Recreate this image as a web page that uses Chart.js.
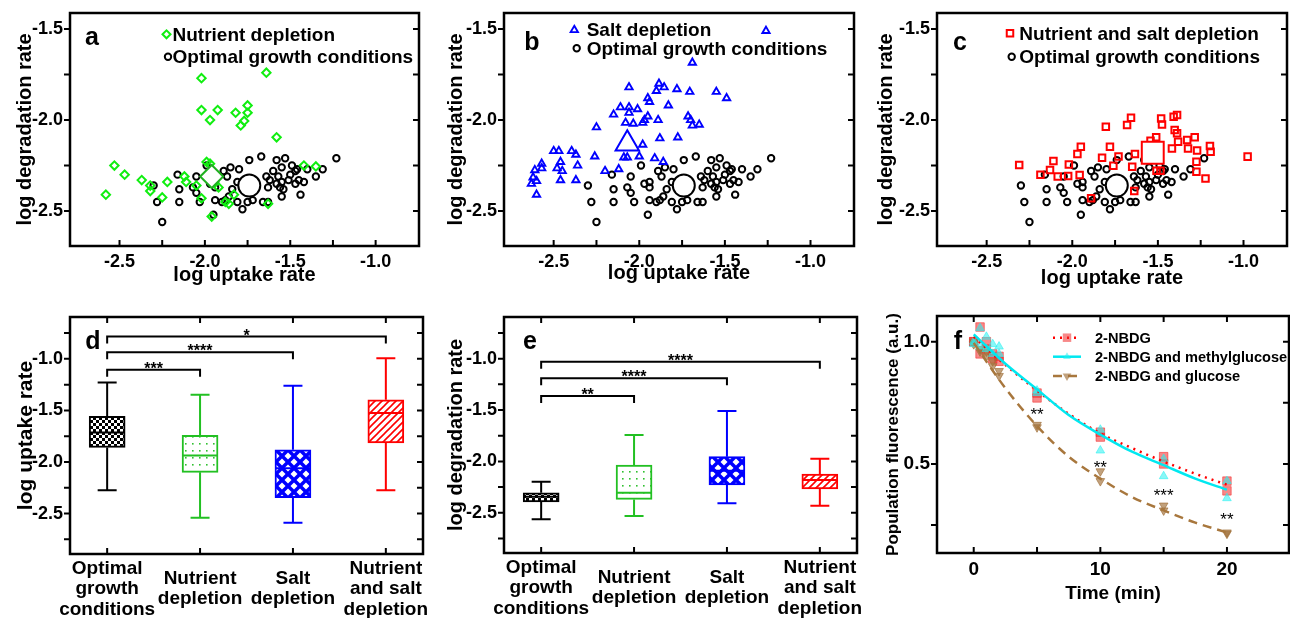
<!DOCTYPE html>
<html><head><meta charset="utf-8">
<script src="https://cdn.jsdelivr.net/npm/chart.js@4/dist/chart.umd.min.js"></script>
<style>
html,body{margin:0;padding:0;background:#fff;width:1290px;height:618px;overflow:hidden}
canvas{position:absolute}
</style></head><body>
<canvas id="ca" width="430" height="300" style="left:0;top:0"></canvas>
<canvas id="cb" width="430" height="300" style="left:430px;top:0"></canvas>
<canvas id="cc" width="430" height="300" style="left:860px;top:0"></canvas>
<canvas id="cd" width="430" height="318" style="left:0;top:300px"></canvas>
<canvas id="ce" width="455" height="318" style="left:430px;top:300px"></canvas>
<canvas id="cf" width="430" height="318" style="left:860px;top:300px"></canvas>
<script>
// ---------------- DATA ----------------
// Optimal growth conditions (black circles, same in a, b, c)
const optX = [-2.30,-2.28,-2.25,-2.16,-2.15,-2.15,-2.07,-2.05,-2.05,-2.03,-1.99,-1.97,-1.94,-1.94,-1.94,-1.95,-1.89,-1.87,-1.85,-1.84,-1.86,-1.88,-1.90,-1.81,-1.80,-1.81,-1.78,-1.74,-1.67,-1.75,-1.72,-1.66,-1.63,-1.63,-1.64,-1.58,-1.53,-1.55,-1.60,-1.57,-1.62,-1.55,-1.56,-1.54,-1.55,-1.49,-1.47,-1.50,-1.45,-1.42,-1.40,-1.44,-1.35,-1.31,-1.23,-1.51,-1.47,-1.58,-1.46];
const optY = [-2.36,-2.45,-2.56,-2.30,-2.38,-2.45,-2.37,-2.31,-2.40,-2.45,-2.25,-2.35,-2.34,-2.37,-2.44,-2.52,-2.28,-2.31,-2.26,-2.38,-2.42,-2.44,-2.45,-2.45,-2.27,-2.34,-2.49,-2.22,-2.20,-2.45,-2.44,-2.45,-2.45,-2.37,-2.31,-2.22,-2.21,-2.26,-2.28,-2.31,-2.33,-2.34,-2.37,-2.38,-2.42,-2.25,-2.28,-2.30,-2.33,-2.34,-2.27,-2.41,-2.31,-2.27,-2.21,-2.33,-2.35,-2.35,-2.27];
// Nutrient depletion (green diamonds)
const nutX = [-2.02,-1.64,-2.02,-1.925,-1.97,-1.82,-1.75,-1.75,-1.77,-1.79,-1.58,-2.53,-2.47,-2.58,-2.37,-2.32,-2.32,-2.22,-2.25,-2.12,-2.11,-2.05,-1.99,-1.97,-1.92,-2.02,-1.88,-1.86,-1.83,-1.96,-1.63,-1.42,-1.35];
const nutY = [-1.77,-1.74,-1.945,-1.945,-2.00,-1.96,-1.92,-1.96,-2.005,-2.03,-2.095,-2.25,-2.30,-2.41,-2.33,-2.36,-2.39,-2.34,-2.425,-2.31,-2.34,-2.36,-2.23,-2.24,-2.37,-2.43,-2.45,-2.46,-2.41,-2.53,-2.46,-2.25,-2.255];
// Salt depletion (blue triangles)
const saltX = [-1.69,-2.06,-1.885,-1.855,-1.90,-1.78,-1.705,-1.55,-1.49,-1.95,-1.94,-1.83,-2.11,-2.06,-2.01,-2.15,-2.06,-1.95,-1.89,-1.97,-1.98,-2.08,-2.035,-1.715,-1.70,-1.69,-1.65,-2.25,-1.88,-1.775,-1.98,-2.09,-2.07,-2.00,-1.91,-1.86,-2.12,-2.20,-2.26,-2.36,-2.37,-2.50,-2.47,-2.395,-2.37,-2.46,-2.48,-2.45,-2.46,-2.57,-2.57,-2.61,-2.62,-2.60,-2.63,-2.60,-1.26];
const saltY = [-1.685,-1.82,-1.80,-1.82,-1.84,-1.83,-1.845,-1.845,-1.88,-1.88,-1.90,-1.92,-1.93,-1.93,-1.94,-1.97,-1.96,-1.98,-2.00,-2.00,-2.015,-2.015,-2.02,-1.98,-2.00,-2.03,-2.025,-2.04,-2.10,-2.095,-2.135,-2.205,-2.205,-2.20,-2.21,-2.23,-2.27,-2.28,-2.20,-2.25,-2.33,-2.17,-2.17,-2.17,-2.19,-2.23,-2.265,-2.28,-2.33,-2.24,-2.265,-2.275,-2.315,-2.335,-2.35,-2.41,-1.51];
// Nutrient and salt depletion (red squares)
const nsX = [-2.31,-2.186,-2.13,-2.11,-2.085,-2.024,-2.02,-1.957,-1.97,-1.95,-1.89,-1.826,-1.804,-1.78,-1.76,-1.73,-1.68,-1.657,-1.65,-1.634,-1.638,-1.543,-1.51,-1.508,-1.485,-1.481,-1.476,-1.418,-1.408,-1.388,-1.402,-1.388,-1.382,-1.329,-1.285,-1.324,-1.271,-1.196,-1.192,-1.275,-1.275,-1.222,-0.976];
const nsY = [-2.247,-2.30,-2.275,-2.225,-2.31,-2.308,-2.244,-2.302,-2.187,-2.147,-2.43,-2.207,-2.037,-2.147,-2.251,-2.20,-2.027,-1.987,-2.256,-2.187,-2.39,-2.114,-2.095,-2.278,-2.278,-1.991,-2.024,-2.156,-1.982,-1.973,-2.055,-2.073,-2.119,-2.11,-2.095,-2.156,-2.168,-2.143,-2.174,-2.229,-2.284,-2.321,-2.201];
// Means (large markers)
const meanOpt = [-1.74, -2.36];
const meanNut = [-1.96, -2.31];
const meanSalt = [-2.07, -2.13];
const meanNS = [-1.53, -2.18];
const scatterXTicks = [-2.5, -2.0, -1.5, -1.0];
const scatterYTicks = [-2.5, -2.0, -1.5];

// Box plots
const boxCats = [['Optimal','growth','conditions'], ['Nutrient','depletion'], ['Salt','depletion'], ['Nutrient','and salt','depletion']];
const upLow  = [-2.275, -2.54, -2.59, -2.275];
const upQ1   = [-1.859, -2.10, -2.345, -1.816];
const upMed  = [-1.713, -1.936, -2.06, -1.526];
const upQ3   = [-1.558, -1.742, -1.881, -1.397];
const upHigh = [-1.229, -1.348, -1.261, -0.993];
const degLow  = [-2.564, -2.532, -2.408, -2.432];
const degQ1   = [-2.395, -2.37, -2.23, -2.269];
const degMed  = [-2.344, -2.305, -2.09, -2.181];
const degQ3   = [-2.305, -2.035, -1.954, -2.123];
const degHigh = [-2.198, -1.743, -1.509, -1.974];
const boxYTicks = [-2.5, -2.0, -1.5, -1.0];
const sigUpFrom = [0, 0, 0], sigUpTo = [1, 2, 3], sigUpY = [-1.106, -0.935, -0.784], sigUpText = ['***', '****', '*'];
const sigDegFrom = [0, 0, 0], sigDegTo = [1, 2, 3], sigDegY = [-1.363, -1.191, -1.029], sigDegText = ['**', '****', '****'];

// Panel f
const timeF = [0, 0.5, 1, 1.5, 2, 5, 10, 15, 20];
const nbdgA = [1.00, 1.06, 1.00, 0.93, 0.94, 0.79, 0.63, 0.53, 0.43];
const nbdgB = [1.00, 0.95, 0.97, 0.95, 0.92, 0.77, 0.61, 0.50, 0.39];
const methA = [1.00, 1.055, 1.02, 0.99, 0.98, 0.80, 0.64, 0.52, 0.43];
const methB = [0.99, 0.98, 0.97, 0.95, 0.95, 0.79, 0.555, 0.45, 0.36];
const glucA = [1.00, 0.97, 0.96, 0.92, 0.88, 0.66, 0.47, 0.33, 0.22];
const glucB = [0.99, 0.96, 0.94, 0.90, 0.86, 0.65, 0.43, 0.31, 0.215];
const fitT = [0, 2.5, 5, 7.5, 10, 12.5, 15, 17.5, 20];
const fitNbdg = [1.02, 0.905, 0.80, 0.705, 0.625, 0.565, 0.51, 0.46, 0.415];
const fitMeth = [1.03, 0.91, 0.805, 0.70, 0.62, 0.55, 0.495, 0.44, 0.395];
const fitGluc = [0.995, 0.81, 0.655, 0.53, 0.44, 0.365, 0.31, 0.26, 0.22];
const starT = [5, 10, 15, 20], starV = [0.72, 0.505, 0.39, 0.29], starText = ['**', '**', '***', '**'];
const fXTicks = [0, 10, 20];
const fYTicks = [0.5, 1.0];

// ---------------- HELPERS ----------------
const FF = "'Liberation Sans', Arial, Helvetica, sans-serif";
Chart.defaults.font.family = FF;
Chart.defaults.color = '#000';
Chart.defaults.animation = false;

function pts(xs, ys) { return xs.map((x, i) => ({x: x, y: ys[i]})); }

function marker(ctx, style, x, y, r, stroke, lw, fill) {
  ctx.save();
  ctx.beginPath();
  if (style === 'circle') ctx.arc(x, y, r, 0, Math.PI * 2);
  else if (style === 'rect') { const s = r * Math.SQRT1_2; ctx.rect(x - s, y - s, 2 * s, 2 * s); }
  else if (style === 'rectRot') { ctx.moveTo(x - r, y); ctx.lineTo(x, y + r); ctx.lineTo(x + r, y); ctx.lineTo(x, y - r); ctx.closePath(); }
  else if (style === 'triangle' || style === 'triDown') {
    const d = style === 'triangle' ? 1 : -1;
    ctx.moveTo(x, y - d * r);
    ctx.lineTo(x + r * 0.866, y + d * r * 0.5);
    ctx.lineTo(x - r * 0.866, y + d * r * 0.5);
    ctx.closePath();
  }
  if (fill) { ctx.fillStyle = fill; ctx.fill(); }
  if (stroke) { ctx.strokeStyle = stroke; ctx.lineWidth = lw; ctx.stroke(); }
  ctx.restore();
}

function makeDeco(cfg) {
  return {
    id: 'deco',
    beforeDatasetsDraw(chart) {
      if (!cfg.box) return;
      const {ctx, scales: {x, y}} = chart, b = cfg.box;
      ctx.save(); ctx.lineWidth = 2;
      for (let i = 0; i < b.lo.length; i++) {
        const px = x.getPixelForValue(i);
        const yh = y.getPixelForValue(b.hi[i]), yl = y.getPixelForValue(b.lo[i]);
        ctx.strokeStyle = b.colors[i];
        ctx.beginPath();
        ctx.moveTo(px, yh); ctx.lineTo(px, y.getPixelForValue(b.q3[i]));
        ctx.moveTo(px, y.getPixelForValue(b.q1[i])); ctx.lineTo(px, yl);
        ctx.moveTo(px - 9.5, yh); ctx.lineTo(px + 9.5, yh);
        ctx.moveTo(px - 9.5, yl); ctx.lineTo(px + 9.5, yl);
        ctx.stroke();
      }
      ctx.restore();
    },
    afterDatasetsDraw(chart) {
      if (!cfg.box) return;
      const {ctx, scales: {x, y}} = chart, b = cfg.box;
      ctx.save(); ctx.lineWidth = 2;
      for (let i = 0; i < b.med.length; i++) {
        const px = x.getPixelForValue(i), pm = y.getPixelForValue(b.med[i]);
        ctx.strokeStyle = b.colors[i];
        ctx.beginPath(); ctx.moveTo(px - 17, pm); ctx.lineTo(px + 17, pm); ctx.stroke();
      }
      ctx.restore();
    },
    afterDraw(chart) {
      const {ctx, chartArea: a, scales: {x, y}} = chart;
      ctx.save();
      ctx.strokeStyle = '#000'; ctx.lineWidth = 2.5;
      ctx.strokeRect(a.left, a.top, a.right - a.left, a.bottom - a.top);
      ctx.lineWidth = 2;
      const L = 6;
      ctx.beginPath();
      const yt = cfg.yMajor.concat(cfg.yMinor || []);
      for (const v of yt) {
        const p = y.getPixelForValue(v);
        if (p < a.top || p > a.bottom) continue;
        ctx.moveTo(a.left - L, p); ctx.lineTo(a.left, p);
        ctx.moveTo(a.right - L, p); ctx.lineTo(a.right, p);
      }
      const xt = cfg.xMajor.concat(cfg.xMinor || []);
      for (const v of xt) {
        const p = x.getPixelForValue(v);
        if (p < a.left || p > a.right) continue;
        ctx.moveTo(p, a.bottom); ctx.lineTo(p, a.bottom - L);
        if (cfg.topTicks) { ctx.moveTo(p, a.top); ctx.lineTo(p, a.top + L); }
      }
      ctx.stroke();
      if (cfg.sig) {
        const s = cfg.sig;
        for (let i = 0; i < s.from.length; i++) {
          const xa = x.getPixelForValue(s.from[i]), xb = x.getPixelForValue(s.to[i]), yy = y.getPixelForValue(s.y[i]);
          ctx.beginPath();
          ctx.moveTo(xa, yy + 7); ctx.lineTo(xa, yy); ctx.lineTo(xb, yy); ctx.lineTo(xb, yy + 7);
          ctx.stroke();
          ctx.font = 'bold 16px ' + FF; ctx.fillStyle = '#000';
          ctx.textAlign = 'center'; ctx.textBaseline = 'alphabetic';
          ctx.fillText(s.text[i], (xa + xb) / 2, yy + 4);
        }
      }
      if (cfg.stars) {
        const s = cfg.stars;
        ctx.font = '17px ' + FF; ctx.fillStyle = '#000';
        ctx.textAlign = 'center'; ctx.textBaseline = 'alphabetic';
        for (let i = 0; i < s.t.length; i++) {
          ctx.fillText(s.text[i], x.getPixelForValue(s.t[i]), y.getPixelForValue(s.v[i]) + 10);
        }
      }
      if (cfg.legend) {
        for (const it of cfg.legend) {
          if (it.line) {
            ctx.save();
            ctx.strokeStyle = it.line.color; ctx.lineWidth = it.line.width; ctx.setLineDash(it.line.dash || []);
            ctx.beginPath(); ctx.moveTo(it.lx0, it.my); ctx.lineTo(it.lx1, it.my); ctx.stroke();
            ctx.restore();
          }
          marker(ctx, it.style, it.mx, it.my, it.r, it.stroke, it.lw, it.fill);
          ctx.font = (it.font || 'bold 19px ') + FF; ctx.fillStyle = '#000';
          ctx.textAlign = 'left'; ctx.textBaseline = 'middle';
          ctx.fillText(it.text, it.tx, it.my + 1);
        }
      }
      if (cfg.letter) {
        ctx.font = 'bold 25px ' + FF; ctx.fillStyle = '#000';
        ctx.textAlign = 'center'; ctx.textBaseline = 'middle';
        ctx.fillText(cfg.letter.t, cfg.letter.x, cfg.letter.y);
      }
      ctx.restore();
    }
  };
}

function tickFix(vals) { return s => { s.ticks = vals.map(v => ({value: v})); }; }
function noPad(s) { s.paddingLeft = 0; s.paddingRight = 0; s.paddingTop = 0; s.paddingBottom = 0; }

// ---------------- SCATTER PANELS ----------------
function scatterPanel(id, geo, sets, legend, letter) {
  return new Chart(document.getElementById(id), {
    type: 'scatter',
    data: {datasets: sets},
    options: {
      responsive: false, animation: false,
      layout: {autoPadding: false, padding: {left: 0, right: geo.padR, top: geo.padTop, bottom: 0}},
      plugins: {legend: {display: false}, tooltip: {enabled: false}},
      scales: {
        x: {
          type: 'linear', min: -2.79, max: -0.746,
          afterBuildTicks: tickFix(scatterXTicks),
          afterFit: s => { s.height = geo.H; noPad(s); },
          grid: {display: false, drawTicks: false}, border: {display: false},
          ticks: {padding: 5, autoSkip: false, maxRotation: 0, font: {size: 18, weight: 'bold'}, callback: v => v.toFixed(1)},
          title: {display: true, text: 'log uptake rate', font: {size: 20, weight: 'bold'}, padding: {top: 0, bottom: geo.xtp}}
        },
        y: {
          type: 'linear', min: -2.692, max: -1.412,
          afterBuildTicks: tickFix(scatterYTicks),
          afterFit: s => { s.width = geo.W; noPad(s); },
          grid: {display: false, drawTicks: false}, border: {display: false},
          ticks: {padding: 7, autoSkip: false, font: {size: 18, weight: 'bold'}, callback: v => v.toFixed(1)},
          title: {display: true, text: 'log degradation rate', font: {size: 20, weight: 'bold'}, padding: {top: geo.ytp, bottom: 0}}
        }
      }
    },
    plugins: [makeDeco({xMajor: scatterXTicks, xMinor: [-2.25, -1.75, -1.25], yMajor: scatterYTicks, yMinor: [-2.25, -1.75], legend: legend, letter: letter})]
  });
}

const optSet = {data: pts(optX, optY), pointStyle: 'circle', pointRadius: 3.2, borderColor: '#000', backgroundColor: 'rgba(0,0,0,0)', borderWidth: 2};
const optMean = {data: [{x: meanOpt[0], y: meanOpt[1]}], pointStyle: 'circle', pointRadius: 11, borderColor: '#000', backgroundColor: '#fff', borderWidth: 2};
const GREEN = '#10ee10', BLUE = '#0000ff', RED = '#ff0000';

scatterPanel('ca', {W: 70, padR: 11, padTop: 13, H: 54, xtp: 13, ytp: 13}, [
  {data: [{x: meanNut[0], y: meanNut[1]}], pointStyle: 'rectRot', pointRadius: 11.5, borderColor: '#20b020', backgroundColor: '#fff', borderWidth: 2},
  optMean,
  {data: pts(nutX, nutY), pointStyle: 'rectRot', pointRadius: 4.2, borderColor: GREEN, backgroundColor: 'rgba(0,0,0,0)', borderWidth: 2},
  optSet
], [
  {style: 'rectRot', mx: 166.5, my: 34.3, r: 4, stroke: GREEN, lw: 2, text: 'Nutrient depletion', tx: 172.5},
  {style: 'circle', mx: 168, my: 56.7, r: 3.2, stroke: '#000', lw: 2, text: 'Optimal growth conditions', tx: 172.5}
], {t: 'a', x: 92, y: 38});

scatterPanel('cb', {W: 74, padR: 6, padTop: 13, H: 54, xtp: 14.7, ytp: 14.7}, [
  {data: [{x: meanSalt[0], y: meanSalt[1]}], pointStyle: 'triangle', pointRadius: 13.5, borderColor: BLUE, backgroundColor: '#fff', borderWidth: 2},
  optMean,
  {data: pts(saltX, saltY), pointStyle: 'triangle', pointRadius: 4.2, borderColor: BLUE, backgroundColor: 'rgba(0,0,0,0)', borderWidth: 1.9},
  optSet
], [
  {style: 'triangle', mx: 144.3, my: 30, r: 4.2, stroke: BLUE, lw: 1.9, text: 'Salt depletion', tx: 156.7},
  {style: 'circle', mx: 146.7, my: 48.3, r: 3.2, stroke: '#000', lw: 2, text: 'Optimal growth conditions', tx: 156.7}
], {t: 'b', x: 102, y: 43});

scatterPanel('cc', {W: 77, padR: 3, padTop: 13, H: 54, xtp: 9.7, ytp: 14.7}, [
  {data: [{x: meanNS[0], y: meanNS[1]}], pointStyle: 'rect', pointRadius: 15.5, borderColor: RED, backgroundColor: '#fff', borderWidth: 2},
  optMean,
  {data: pts(nsX, nsY), pointStyle: 'rect', pointRadius: 4.6, borderColor: RED, backgroundColor: 'rgba(0,0,0,0)', borderWidth: 2},
  optSet
], [
  {style: 'rect', mx: 150, my: 33.3, r: 4.6, stroke: RED, lw: 2, text: 'Nutrient and salt depletion', tx: 159.3},
  {style: 'circle', mx: 151.7, my: 56.7, r: 3.2, stroke: '#000', lw: 2, text: 'Optimal growth conditions', tx: 159.3}
], {t: 'c', x: 100, y: 43});

// ---------------- PATTERNS ----------------
function pattern(w, h, draw) {
  const c = document.createElement('canvas'); c.width = w; c.height = h;
  const g = c.getContext('2d'); draw(g);
  return g.createPattern(c, 'repeat');
}
const patChecker = pattern(6, 6, g => { g.fillStyle = '#fff'; g.fillRect(0, 0, 6, 6); g.fillStyle = '#000'; g.fillRect(0, 0, 3, 3); g.fillRect(3, 3, 3, 3); });
const patDots = pattern(7, 7, g => { g.fillStyle = '#fff'; g.fillRect(0, 0, 7, 7); g.fillStyle = '#30c030'; g.fillRect(3, 3, 1.6, 1.6); });
const patDiam = pattern(12, 12, g => {
  g.fillStyle = '#0000ff'; g.fillRect(0, 0, 12, 12); g.fillStyle = '#fff';
  for (const [cx, cy] of [[6, 6], [0, 0], [12, 0], [0, 12], [12, 12]]) {
    g.beginPath(); g.moveTo(cx - 3.5, cy); g.lineTo(cx, cy - 3.5); g.lineTo(cx + 3.5, cy); g.lineTo(cx, cy + 3.5); g.closePath(); g.fill();
  }
});
const patHatch = pattern(7, 7, g => {
  g.fillStyle = '#fff'; g.fillRect(0, 0, 7, 7); g.strokeStyle = '#ff0000'; g.lineWidth = 1.6;
  g.beginPath(); g.moveTo(-1, 8); g.lineTo(8, -1); g.moveTo(-1, 1); g.lineTo(1, -1); g.moveTo(6, 8); g.lineTo(8, 6); g.stroke();
});
const boxColors = ['#000000', '#22c022', '#0000ff', '#ff0000'];
const boxFills = [patChecker, patDots, patDiam, patHatch];

// ---------------- BOX PANELS ----------------
function boxPanel(id, geo, lo, q1, med, q3, hi, sig, ytitle, letter) {
  return new Chart(document.getElementById(id), {
    type: 'bar',
    data: {datasets: [{
      data: q1.map((v, i) => ({x: i, y: [v, q3[i]]})),
      backgroundColor: boxFills, borderColor: boxColors, borderWidth: 2, borderSkipped: false, barThickness: 36
    }]},
    options: {
      responsive: false, animation: false,
      layout: {autoPadding: false, padding: {left: 0, right: geo.padR, top: geo.padTop, bottom: 0}},
      plugins: {legend: {display: false}, tooltip: {enabled: false}},
      scales: {
        x: {
          type: 'linear', min: -0.4, max: 3.4, offset: false,
          afterBuildTicks: tickFix([0, 1, 2, 3]),
          afterFit: s => { s.height = geo.H; noPad(s); },
          grid: {display: false, drawTicks: false}, border: {display: false},
          ticks: {padding: 15, autoSkip: false, maxRotation: 0, crossAlign: 'center', font: {size: 19, weight: 'bold', lineHeight: 1.06}, callback: (v, i) => boxCats[i]}
        },
        y: {
          type: 'linear', min: -2.892, max: -0.594, beginAtZero: false,
          afterBuildTicks: tickFix(boxYTicks),
          afterFit: s => { s.width = geo.W; noPad(s); },
          grid: {display: false, drawTicks: false}, border: {display: false},
          ticks: {padding: 7, autoSkip: false, font: {size: 18, weight: 'bold'}, callback: v => v.toFixed(1)},
          title: {display: true, text: ytitle, font: {size: geo.ytf, weight: 'bold'}, padding: {top: geo.ytp, bottom: 0}}
        }
      }
    },
    plugins: [makeDeco({
      xMajor: [0, 1, 2, 3], yMajor: boxYTicks, yMinor: [-2.75, -2.25, -1.75, -1.25, -0.75], topTicks: true,
      box: {lo: lo, q1: q1, med: med, q3: q3, hi: hi, colors: boxColors},
      sig: sig, letter: letter
    })]
  });
}
boxPanel('cd', {W: 70, padR: 7, padTop: 17, H: 64, ytp: 14, ytf: 21}, upLow, upQ1, upMed, upQ3, upHigh,
  {from: sigUpFrom, to: sigUpTo, y: sigUpY, text: sigUpText}, 'log uptake rate', {t: 'd', x: 93, y: 42});
boxPanel('ce', {W: 74, padR: 28, padTop: 17, H: 65, ytp: 14, ytf: 20}, degLow, degQ1, degMed, degQ3, degHigh,
  {from: sigDegFrom, to: sigDegTo, y: sigDegY, text: sigDegText}, 'log degradation rate', {t: 'e', x: 100, y: 42});

// ---------------- PANEL f ----------------
const cRed = 'rgba(240,40,40,0.55)', cCyan = 'rgba(40,240,240,0.55)', cBrown = 'rgba(160,110,55,0.65)';
new Chart(document.getElementById('cf'), {
  type: 'scatter',
  data: {datasets: [
    {data: pts(fitT, fitMeth), showLine: true, pointRadius: 0, borderColor: '#00e8f0', borderWidth: 2.5, cubicInterpolationMode: 'monotone'},
    {data: pts(fitT, fitNbdg), showLine: true, pointRadius: 0, borderColor: '#ff0000', borderWidth: 2.5, borderDash: [2, 5], cubicInterpolationMode: 'monotone'},
    {data: pts(fitT, fitGluc), showLine: true, pointRadius: 0, borderColor: '#a8773d', borderWidth: 2.5, borderDash: [9, 6], cubicInterpolationMode: 'monotone'},
    {data: pts(timeF, methA), pointStyle: 'triangle', pointRadius: 5, backgroundColor: cCyan, borderColor: cCyan, borderWidth: 1},
    {data: pts(timeF, methB), pointStyle: 'triangle', pointRadius: 5, backgroundColor: cCyan, borderColor: cCyan, borderWidth: 1},
    {data: pts(timeF, glucA), pointStyle: 'triangle', rotation: 180, pointRadius: 5, backgroundColor: cBrown, borderColor: cBrown, borderWidth: 1},
    {data: pts(timeF, glucB), pointStyle: 'triangle', rotation: 180, pointRadius: 5, backgroundColor: cBrown, borderColor: cBrown, borderWidth: 1},
    {data: pts(timeF, nbdgA), pointStyle: 'rect', pointRadius: 6, backgroundColor: cRed, borderColor: cRed, borderWidth: 1},
    {data: pts(timeF, nbdgB), pointStyle: 'rect', pointRadius: 6, backgroundColor: cRed, borderColor: cRed, borderWidth: 1}
  ]},
  options: {
    responsive: false, animation: false,
    layout: {autoPadding: false, padding: {left: 0, right: 1, top: 16, bottom: 0}},
    plugins: {legend: {display: false}, tooltip: {enabled: false}},
    scales: {
      x: {
        type: 'linear', min: -2.9, max: 24.9,
        afterBuildTicks: tickFix(fXTicks),
        afterFit: s => { s.height = 65; noPad(s); },
        grid: {display: false, drawTicks: false}, border: {display: false},
        ticks: {padding: 5, autoSkip: false, maxRotation: 0, font: {size: 19, weight: 'bold'}, callback: v => String(v)},
        title: {display: true, text: 'Time (min)', font: {size: 19, weight: 'bold'}, padding: {top: 0, bottom: 13}}
      },
      y: {
        type: 'linear', min: 0.136, max: 1.105,
        afterBuildTicks: tickFix(fYTicks),
        afterFit: s => { s.width = 77; noPad(s); },
        grid: {display: false, drawTicks: false}, border: {display: false},
        ticks: {padding: 7, autoSkip: false, font: {size: 19, weight: 'bold'}, callback: v => v.toFixed(1)},
        title: {display: true, text: 'Population fluorescence (a.u.)', font: {size: 17, weight: 'bold'}, padding: {top: 23, bottom: 0}}
      }
    }
  },
  plugins: [makeDeco({
    xMajor: [0, 10, 20], xMinor: [5, 15], yMajor: fYTicks, yMinor: [0.25, 0.75], topTicks: true,
    stars: {t: starT, v: starV, text: starText},
    legend: [
      {line: {color: '#ff0000', width: 2.5, dash: [2, 5]}, lx0: 193, lx1: 221, style: 'rect', mx: 207, my: 37.7, r: 6, fill: cRed, text: '2-NBDG', tx: 235, font: 'bold 14.6px '},
      {line: {color: '#00e8f0', width: 2.5}, lx0: 193, lx1: 221, style: 'triangle', mx: 207, my: 56.7, r: 4.5, fill: cCyan, text: '2-NBDG and methylglucose', tx: 235, font: 'bold 14.6px '},
      {line: {color: '#a8773d', width: 2.5, dash: [9, 6]}, lx0: 193, lx1: 221, style: 'triDown', mx: 207, my: 76, r: 5, fill: cBrown, text: '2-NBDG and glucose', tx: 235, font: 'bold 14.6px '}
    ],
    letter: {t: 'f', x: 98, y: 42}
  })]
});
</script>
</body></html>
